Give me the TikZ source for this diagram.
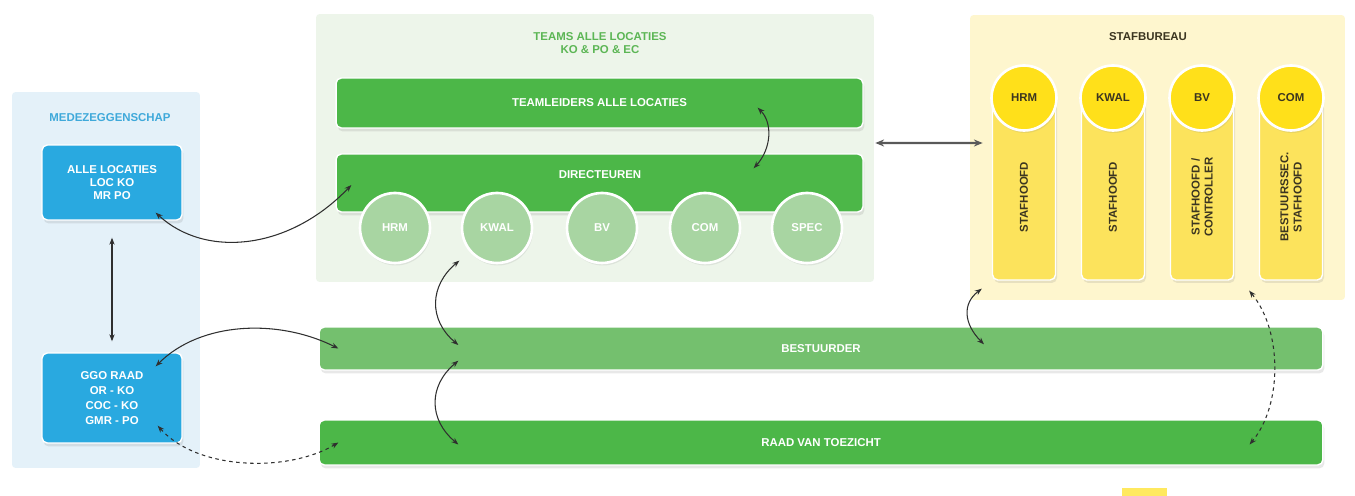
\documentclass[tikz,border=0pt]{standalone}
\usepackage{fontspec}
\setmainfont{Liberation Sans}
\usetikzlibrary{arrows.meta,shadows}
\definecolor{bluebg}{HTML}{E4F1F9}
\definecolor{bluebox}{HTML}{29A9E0}
\definecolor{bluetitle}{HTML}{3FA9DA}
\definecolor{greenbg}{HTML}{EDF5EA}
\definecolor{greenbar}{HTML}{4CB748}
\definecolor{greenlight}{HTML}{74C06E}
\definecolor{greencirc}{HTML}{A8D5A2}
\definecolor{greentitle}{HTML}{5CB655}
\definecolor{yellowbg}{HTML}{FEF6CE}
\definecolor{yellowcol}{HTML}{FCE35C}
\definecolor{yellowcirc}{HTML}{FFE01A}
\definecolor{darktext}{HTML}{3B3520}
\definecolor{linkgray}{HTML}{2F2F2F}

\begin{document}
\begin{tikzpicture}[x=0.02cm, y=-0.02cm,
    txt/.style={font=\bfseries\fontsize{6.5}{7.5}\selectfont},
    panel/.style={rounded corners=2pt, inner sep=0pt},
    bar/.style={txt, draw=white, line width=0.8pt, rounded corners=3pt, text=white, inner sep=0pt,
      drop shadow={opacity=0.18, shadow xshift=0.03cm, shadow yshift=-0.07cm}},
    bluebx/.style={bar, fill=bluebox, minimum width=2.8cm, align=center},
    gcirc/.style={circle, txt, fill=greencirc, draw=white, line width=1.5pt, text=white, minimum size=1.4cm, inner sep=0pt,
      drop shadow={opacity=0.15, shadow xshift=0.02cm, shadow yshift=-0.05cm}},
    col/.style={fill=yellowcol, draw=white, line width=0.8pt, rounded corners=3pt, minimum width=1.26cm, minimum height=3.6cm,
      drop shadow={opacity=0.18, shadow xshift=0.03cm, shadow yshift=-0.06cm}},
    ycirc/.style={circle, txt, fill=yellowcirc, draw=white, line width=1.5pt, text=darktext, minimum size=1.3cm, inner sep=0pt,
      drop shadow={opacity=0.15, shadow xshift=0.02cm, shadow yshift=-0.05cm}},
    coltext/.style={txt, text=darktext, rotate=90, align=center},
    link/.style={draw=linkgray, line width=0.6pt, arrows={Stealth[length=4pt,width=3pt]-Stealth[length=4pt,width=3pt]}},
    dlink/.style={link, dash pattern=on 2pt off 2pt}]
  \useasboundingbox (0,0) rectangle (1355,496);
  \fill[white] (0,0) rectangle (1355,496);
  \node[panel, fill=bluebg, minimum width=3.76cm, minimum height=7.52cm] (mz) at (106,280) {};
  \node[panel, fill=greenbg, minimum width=11.16cm, minimum height=5.36cm] (teams) at (595,148) {};
  \node[panel, fill=yellowbg, minimum width=7.5cm, minimum height=5.7cm] (staf) at (1157.5,157.5) {};
  \fill[yellowcirc!70] (1122,488) rectangle (1167,496);
  \node[txt, text=bluetitle] (mztitle) at (110,118) {MEDEZEGGENSCHAP};
  \node[txt, text=greentitle, align=center] (teamstitle) at (600,43) {TEAMS ALLE LOCATIES\\KO \& PO \& EC};
  \node[txt, text=darktext] (staftitle) at (1148,37) {STAFBUREAU};
  \node[bluebx, minimum height=1.5cm, font=\bfseries\fontsize{6.5}{7.4}\selectfont] (alle) at (112,182.5) {ALLE LOCATIES\\LOC KO\\MR PO};
  \node[bluebx, minimum height=1.8cm, font=\bfseries\fontsize{6.5}{8.6}\selectfont] (ggo) at (112,398) {GGO RAAD\\OR - KO\\COC - KO\\GMR - PO};
  \node[bar, fill=greenbar, minimum width=10.54cm, minimum height=1.0cm] (tl) at (599.5,103) {TEAMLEIDERS ALLE LOCATIES};
  \node[bar, fill=greenbar, minimum width=10.54cm, minimum height=1.16cm] (dir) at (599.5,183) {};
  \node[txt, text=white] (dirtext) at (600,175) {DIRECTEUREN};
  \foreach \nm/\xx/\lbl in {ghrm/395/HRM, gkwal/497/KWAL, gbv/602/BV, gcom/705/COM, gspec/807/SPEC}
    \node[gcirc] (\nm) at (\xx,228) {\lbl};
  \foreach \nm/\xx/\lbl/\tx in {shrm/1024/HRM/STAFHOOFD, skwal/1113/KWAL/STAFHOOFD, sbv/1202/BV/{STAFHOOFD /\\CONTROLLER}, scom/1291/COM/{BESTUURSSEC.\\STAFHOOFD}} {
    \node[col] (\nm) at (\xx,190) {};
    \node[ycirc] (\nm c) at (\xx,98) {\lbl};
    \node[coltext] (\nm t) at (\xx,197) {\tx};
  }
  \node[bar, fill=greenlight, minimum width=20.08cm, minimum height=0.86cm] (best) at (821,348.5) {BESTUURDER};
  \node[bar, fill=greenbar, minimum width=20.08cm, minimum height=0.9cm] (raad) at (821,442.5) {RAAD VAN TOEZICHT};
  \draw[link] ([yshift=-0.34cm]alle.south) -- ([yshift=0.22cm]ggo.north);
  \draw[link] ([xshift=-0.54cm,yshift=0.16cm]alle.south east) .. controls +(50,46) and +(-62,65) .. ([xshift=0.32cm,yshift=-0.04cm]dir.west);
  \draw[link] ([xshift=-0.54cm,yshift=-0.28cm]ggo.north east) .. controls +(45,-45) and +(-60,-30) .. ([xshift=0.4cm]best.west);
  \draw[dlink] ([xshift=-0.5cm,yshift=0.36cm]ggo.south east) .. controls +(40,45) and +(-50,30) .. ([xshift=0.4cm]raad.west);
  \draw[link] ([xshift=-2.12cm,yshift=0.42cm]tl.south east) .. controls +(15,15) and +(18,-20) .. ([xshift=-2.2cm,yshift=-0.3cm]dir.north east);
  \draw[draw=black!65, line width=1.2pt, arrows={Stealth[length=5pt,width=4pt]-Stealth[length=5pt,width=4pt]}] ([xshift=0.02cm,yshift=0.1cm]teams.east) -- ([xshift=0.26cm,yshift=0.29cm]staf.west);
  \draw[link] ([xshift=-0.24cm,yshift=-0.14cm]gkwal.south west) .. controls +(-30,25) and +(-30,-25) .. ([xshift=2.8cm,yshift=0.07cm]best.west);
  \draw[link] ([xshift=2.8cm,yshift=0.2cm]best.south west) .. controls +(-30,25) and +(-30,-25) .. ([xshift=2.8cm,yshift=-0.04cm]raad.west);
  \draw[link] ([xshift=-0.2cm,yshift=-0.16cm]shrm.south west) .. controls +(-20,15) and +(-20,-20) .. ([xshift=3.26cm,yshift=-0.36cm]best.north);
  \draw[dlink] ([xshift=0.3cm,yshift=-0.2cm]sbv.south east) .. controls +(33,40) and +(33,-40) .. ([xshift=-1.48cm,yshift=-0.04cm]raad.east);
\end{tikzpicture}
\end{document}
